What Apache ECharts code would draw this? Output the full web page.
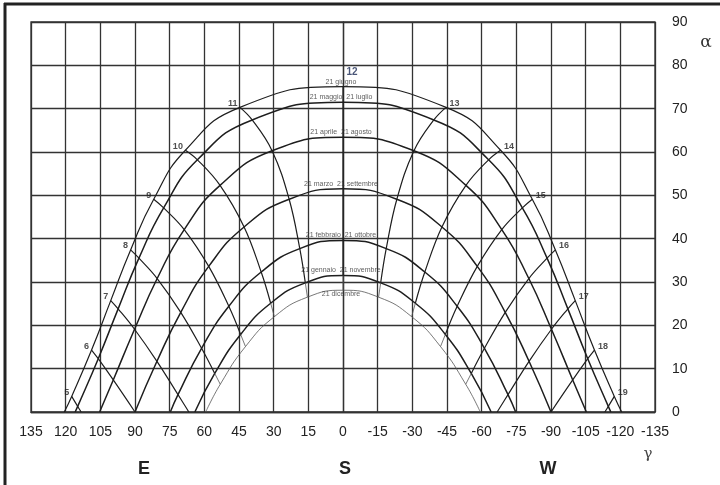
<!DOCTYPE html>
<html>
<head>
<meta charset="utf-8">
<script src="https://cdn.jsdelivr.net/npm/echarts@6/dist/echarts.min.js"></script>
<style>
  html, body { margin: 0; padding: 0; background: #fff; }
  #chart { width: 720px; height: 485px; }
</style>
</head>
<body>
<div id="chart"></div>
<script>
// solar hours (solar time) and the date curves
const hours = [5, 6, 7, 8, 9, 10, 11, 12, 13, 14, 15, 16, 17, 18, 19]
const dates = [
  '21 giugno',
  '21 maggio  21 luglio',
  '21 aprile  21 agosto',
  '21 marzo  21 settembre',
  '21 febbraio  21 ottobre',
  '21 gennaio  21 novembre',
  '21 dicembre',
]

// azimuth γ / altitude α read per hour for each date (null = sun below horizon)
const azGiu = [117.4, 108.8, 100.5, 91.9, 81.9, 68.2, 44.6, 0, -44.6, -68.2, -81.9, -91.9, -100.5, -108.8, -117.4]
const altGiu = [3.6, 14.3, 25.7, 37.4, 49.1, 60.4, 70.3, 75.1, 70.3, 60.4, 49.1, 37.4, 25.7, 14.3, 3.6]
const azMag = [114.8, 105.9, 97.3, 88.3, 77.6, 63.0, 39.3, 0, -39.3, -63.0, -77.6, -88.3, -97.3, -105.9, -114.8]
const altMag = [1.3, 12.3, 23.8, 35.5, 47.1, 58.2, 67.4, 71.5, 67.4, 58.2, 47.1, 35.5, 23.8, 12.3, 1.3]
const azApr = [null, 99.4, 90.2, 80.4, 68.7, 53.2, 30.7, 0, -30.7, -53.2, -68.7, -80.4, -90.2, -99.4, null]
const altApr = [null, 7.4, 19.1, 30.8, 42.1, 52.3, 60.3, 63.4, 60.3, 52.3, 42.1, 30.8, 19.1, 7.4, null]
const azMar = [null, 90, 80.5, 70.2, 58.1, 42.8, 23.3, 0, -23.3, -42.8, -58.1, -70.2, -80.5, -90, null]
const altMar = [null, 0, 11.7, 23.0, 33.6, 42.7, 49.1, 51.5, 49.1, 42.7, 33.6, 23.0, 11.7, 0, null]
const azFeb = [null, null, 71.4, 61.2, 49.4, 35.4, 18.7, 0, -18.7, -35.4, -49.4, -61.2, -71.4, null, null]
const altFeb = [null, null, 4.0, 14.7, 24.4, 32.3, 37.7, 39.6, 37.7, 32.3, 24.4, 14.7, 4.0, null, null]
const azGen = [null, null, null, 55.5, 44.3, 31.3, 16.3, 0, -16.3, -31.3, -44.3, -55.5, null, null, null]
const altGen = [null, null, null, 8.9, 17.9, 25.1, 29.8, 31.5, 29.8, 25.1, 17.9, 8.9, null, null, null]
const azDic = [null, null, null, 53.1, 42.2, 29.7, 15.4, 0, -15.4, -29.7, -42.2, -53.1, null, null, null]
const altDic = [null, null, null, 6.4, 15.1, 22.0, 26.5, 28.1, 26.5, 22.0, 15.1, 6.4, null, null, null]

// sunrise / sunset azimuth of each date
const sunriseAz = [120.6, 115.9, 105.3, 90, 74.7, 64.1, 59.4]
const sunsetAz = [-120.6, -115.9, -105.3, -90, -74.7, -64.1, -59.4]

// hour lines that reach the horizon between two dates
const endHours = [5, 7, 17, 19]
const endAz = [113.3, 66.7, -66.7, -113.3]

const xTicks = [135, 120, 105, 90, 75, 60, 45, 30, 15, 0, -15, -30, -45, -60, -75, -90, -105, -120, -135]

const az = [azGiu, azMag, azApr, azMar, azFeb, azGen, azDic]
const alt = [altGiu, altMag, altApr, altMar, altFeb, altGen, altDic]

const FONT = '"Liberation Sans", Arial, sans-serif'
const INK = '#1e1e1e'

function dateCurve(i) {
  const pts = [[sunriseAz[i], 0]]
  hours.forEach((h, k) => {
    if (alt[i][k] !== null && alt[i][k] > 0) pts.push([az[i][k], alt[i][k]])
  })
  pts.push([sunsetAz[i], 0])
  return pts
}

function hourMain(k) {
  const pts = []
  for (let i = 0; i <= 5; i++) {
    if (alt[i][k] !== null) pts.push([az[i][k], alt[i][k]])
  }
  const e = endHours.indexOf(hours[k])
  if (e >= 0) pts.push([endAz[e], 0])
  return pts
}

function hourTail(k) {
  if (alt[5][k] === null || alt[6][k] === null) return []
  return [[az[5][k], alt[5][k]], [az[6][k], alt[6][k]]]
}

const series = []

dates.forEach((d, i) => {
  series.push({
    type: 'line',
    data: dateCurve(i),
    smooth: 0.5,
    symbol: 'none',
    silent: true,
    lineStyle: {
      color: i === 6 ? '#555' : INK,
      width: i === 6 ? 0.8 : (i === 0 ? 1.2 : 1.5),
    },
    z: 3,
  })
})

hours.forEach((h, k) => {
  series.push({
    type: 'line',
    data: hourMain(k),
    smooth: 0.4,
    symbol: 'none',
    silent: true,
    lineStyle: { color: INK, width: 1.2 },
    z: 3,
  })
  const tail = hourTail(k)
  if (tail.length) {
    series.push({
      type: 'line',
      data: tail,
      symbol: 'none',
      silent: true,
      lineStyle: { color: '#555', width: 0.8 },
      z: 3,
    })
  }
})

// hour numbers at the 21 giugno curve
series.push({
  type: 'scatter',
  symbolSize: 1,
  itemStyle: { color: 'rgba(0,0,0,0)' },
  silent: true,
  z: 5,
  data: hours.map((h, k) => {
    const a = azGiu[k]
    let label
    if (a > 0) label = { position: 'left', distance: 2, offset: [0, -4] }
    else if (a < 0) label = { position: 'right', distance: 3, offset: [0, -4] }
    else label = { position: 'top', distance: 9, offset: [9, 0], fontSize: 10, color: '#1b2a55' }
    return { value: [a, altGiu[k]], name: String(h), label }
  }),
  label: {
    show: true,
    formatter: '{b}',
    fontFamily: FONT,
    fontSize: 9,
    fontWeight: 'bold',
    color: '#222',
  },
})

// date names at the noon point of each curve
series.push({
  type: 'scatter',
  symbolSize: 1,
  itemStyle: { color: 'rgba(0,0,0,0)' },
  silent: true,
  z: 5,
  data: dates.map((d, i) => ({
    value: [az[i][7], alt[i][7]],
    name: d,
    label: i === 6 ? { position: 'bottom', distance: 0 } : { position: 'top', distance: 1 },
  })),
  label: {
    show: true,
    formatter: '{b}',
    fontFamily: FONT,
    fontSize: 7,
    color: '#333',
    offset: [-2, 0],
  },
})

const chart = echarts.init(document.getElementById('chart'))
chart.setOption({
  animation: false,
  backgroundColor: '#fff',
  grid: {
    left: 31, right: 65, top: 22, bottom: 73,
    show: true, borderColor: '#333', borderWidth: 1.3,
  },
  xAxis: {
    type: 'value',
    min: -135,
    max: 135,
    interval: 15,
    inverse: true,
    axisLine: { show: true, lineStyle: { color: '#333', width: 1.3 } },
    axisTick: { show: false },
    axisLabel: {
      margin: 13,
      fontFamily: FONT,
      fontSize: 14,
      color: '#222',
      formatter: v => (xTicks.includes(v) ? String(v) : ''),
    },
    splitLine: { show: true, lineStyle: { color: '#333', width: 1.3 } },
  },
  yAxis: {
    type: 'value',
    position: 'right',
    min: 0,
    max: 90,
    interval: 10,
    axisLine: { show: true, lineStyle: { color: '#333', width: 1.3 } },
    axisTick: { show: false },
    axisLabel: {
      margin: 17,
      align: 'left',
      fontFamily: FONT,
      fontSize: 14,
      color: '#222',
    },
    splitLine: { show: true, lineStyle: { color: '#333', width: 1.3 } },
  },
  graphic: [
    { type: 'line', shape: { x1: 5, y1: 3, x2: 5, y2: 485 }, style: { stroke: '#222', lineWidth: 3 } },
    { type: 'line', shape: { x1: 4, y1: 4, x2: 720, y2: 4 }, style: { stroke: '#222', lineWidth: 3 } },
    { type: 'text', x: 706, y: 43, style: { text: 'α', font: '17px "DejaVu Serif", serif', fill: '#333', align: 'center', verticalAlign: 'middle' } },
    { type: 'text', x: 648, y: 454, style: { text: 'γ', font: '15px "DejaVu Serif", serif', fill: '#444', align: 'center', verticalAlign: 'middle' } },
    { type: 'text', x: 144, y: 469, style: { text: 'E', font: 'bold 18px "Liberation Sans", Arial, sans-serif', fill: '#222', align: 'center', verticalAlign: 'middle' } },
    { type: 'text', x: 345, y: 469, style: { text: 'S', font: 'bold 18px "Liberation Sans", Arial, sans-serif', fill: '#222', align: 'center', verticalAlign: 'middle' } },
    { type: 'text', x: 548, y: 469, style: { text: 'W', font: 'bold 18px "Liberation Sans", Arial, sans-serif', fill: '#222', align: 'center', verticalAlign: 'middle' } },
  ],
  series,
})
</script>
</body>
</html>
